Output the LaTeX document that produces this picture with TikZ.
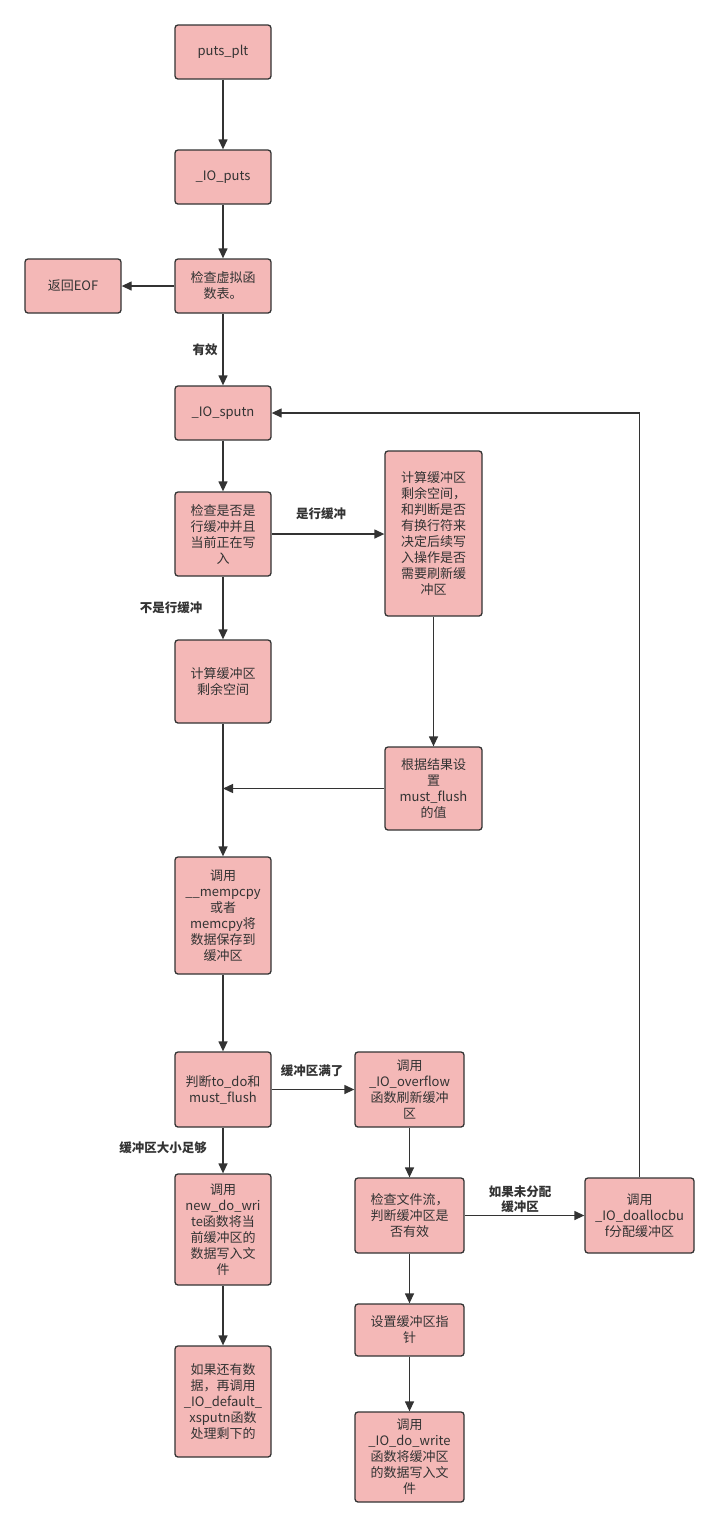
\documentclass[tikz,border=0pt]{standalone}
\usepackage{fontspec}
\setmainfont{Noto Sans CJK SC}
\usetikzlibrary{arrows.meta}
\definecolor{boxfill}{HTML}{F4B8B7}
\definecolor{ink}{HTML}{333333}
\tikzset{
  stepbox/.style={draw=ink, fill=boxfill, line width=1.3pt, rounded corners=3pt,
    inner sep=0pt, align=center, text=ink, font=\fontsize{13}{16}\selectfont},
  conn/.style={draw=ink, line width=1.3pt, -{Triangle[length=10pt,width=9pt]}},
  lbl/.style={text=ink, font=\fontsize{12.5}{15}\selectfont\bfseries, align=center, inner sep=0pt}
}
\begin{document}
\begin{tikzpicture}[x=1pt,y=-1pt]
\useasboundingbox (0,0) rectangle (719,1527);
% boxes
\node[stepbox, minimum width=96, minimum height=54] (plt) at (223,52) {puts\_plt};
\node[stepbox, minimum width=96, minimum height=54] (puts) at (223,177) {\_IO\_puts};
\node[stepbox, minimum width=96, minimum height=54] (vt) at (223,286) {检查虚拟函\\数表。};
\node[stepbox, minimum width=96, minimum height=54] (eof) at (73,286) {返回EOF};
\node[stepbox, minimum width=96, minimum height=54] (sputn) at (223,413) {\_IO\_sputn};
\node[stepbox, minimum width=96, minimum height=84] (chk) at (223,534) {检查是否是\\行缓冲并且\\当前正在写\\入};
\node[stepbox, minimum width=97, minimum height=165] (calc2) at (433.5,533.5) {计算缓冲区\\剩余空间，\\和判断是否\\有换行符来\\决定后续写\\入操作是否\\需要刷新缓\\冲区};
\node[stepbox, minimum width=96, minimum height=83] (calc1) at (223,681.5) {计算缓冲区\\剩余空间};
\node[stepbox, minimum width=97, minimum height=83] (setflush) at (433.5,788.5) {根据结果设\\置\\must\_flush\\的值};
\node[stepbox, minimum width=96, minimum height=117] (mem) at (223,915.5) {调用\\\_\_mempcpy\\或者\\memcpy将\\数据保存到\\缓冲区};
\node[stepbox, minimum width=96, minimum height=75] (judge) at (223,1089.5) {判断to\_do和\\must\_flush};
\node[stepbox, minimum width=109, minimum height=75] (ovf) at (409.5,1089.5) {调用\\\_IO\_overflow\\函数刷新缓冲\\区};
\node[stepbox, minimum width=96, minimum height=111] (newdw) at (223,1229.5) {调用\\new\_do\_wri\\te函数将当\\前缓冲区的\\数据写入文\\件};
\node[stepbox, minimum width=109, minimum height=75] (chkf) at (409.5,1215.5) {检查文件流，\\判断缓冲区是\\否有效};
\node[stepbox, minimum width=109, minimum height=75] (alloc) at (639.5,1215.5) {调用\\\_IO\_doallocbu\\f分配缓冲区};
\node[stepbox, minimum width=109, minimum height=52] (setp) at (409.5,1330) {设置缓冲区指\\针};
\node[stepbox, minimum width=109, minimum height=90] (dow) at (409.5,1457) {调用\\\_IO\_do\_write\\函数将缓冲区\\的数据写入文\\件};
\node[stepbox, minimum width=96, minimum height=111] (more) at (223,1401.5) {如果还有数\\据，再调用\\\_IO\_default\_\\xsputn函数\\处理剩下的};
% labels
\node[lbl] (l1) at (205,350) {有效};
\node[lbl] (l2) at (321,514) {是行缓冲};
\node[lbl] (l3) at (171,608) {不是行缓冲};
\node[lbl] (l4) at (312,1071) {缓冲区满了};
\node[lbl] (l5) at (163,1148) {缓冲区大小足够};
\node[lbl] (l6) at (520,1199.5) {如果未分配\\缓冲区};
\coordinate (join) at (223,788.5);
% connectors
\draw[conn] (plt) -- (puts);
\draw[conn] (puts) -- (vt);
\draw[conn] (vt) -- (eof);
\draw[conn] (vt) -- (sputn);
\draw[conn] (sputn) -- (chk);
\draw[conn] (chk) -- (calc2.west |- chk.east);
\draw[conn] (chk) -- (calc1);
\draw[conn] (calc2) -- (setflush);
\draw[conn] (setflush.west) -- (join);
\draw[conn] (calc1) -- (mem);
\draw[conn] (mem) -- (judge);
\draw[conn] (judge) -- (ovf);
\draw[conn] (judge) -- (newdw);
\draw[conn] (ovf) -- (chkf);
\draw[conn] (chkf) -- (alloc);
\draw[conn] (alloc.north) |- (sputn.east);
\draw[conn] (chkf) -- (setp);
\draw[conn] (setp) -- (dow);
\draw[conn] (newdw) -- (more);
\end{tikzpicture}
\end{document}
